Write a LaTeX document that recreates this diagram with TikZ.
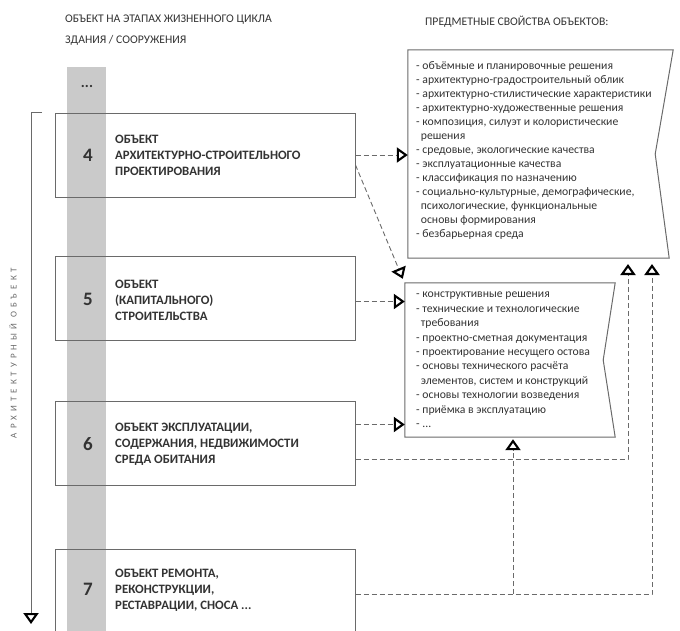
\documentclass[tikz,border=0pt]{standalone}
\usepackage{fontspec}
\setmainfont{Carlito}
\usetikzlibrary{arrows.meta}

\definecolor{txtgray}{HTML}{333333}
\definecolor{linegray}{HTML}{6A6A6A}
\definecolor{bargray}{HTML}{CACACA}

\tikzset{
  stagebox/.style={draw=linegray,line width=1pt,minimum width=300pt,minimum height=84pt,inner sep=0pt},
  stagenum/.style={font=\fontsize{19}{20}\selectfont\bfseries,text=txtgray},
  stagetext/.style={anchor=west,align=left,inner sep=0pt,font=\fontsize{12.8}{16}\selectfont\bfseries,text=txtgray},
  propbox/.style={draw=none,inner sep=0pt},
  proptext/.style={anchor=north west,align=left,inner sep=0pt,font=\fontsize{11.7}{14}\selectfont,text=txtgray},
  title/.style={anchor=west,align=left,inner sep=0pt,font=\fontsize{11.7}{21}\selectfont,text=txtgray},
  opentip/.style={-{Triangle[open,length=11pt,width=15pt,line width=2.1pt,color=black]}},
  link/.style={draw=linegray,line width=0.9pt,dash pattern=on 5pt off 3pt,opentip}
}

\begin{document}
\begin{tikzpicture}[x=1pt,y=-1pt]

\useasboundingbox (0,0) rectangle (680,630);
\clip (0,0) rectangle (680,630);

% Titles
\node[title] (ttlLeft) at (65,30) {ОБЪЕКТ НА ЭТАПАХ ЖИЗНЕННОГО ЦИКЛА\\ЗДАНИЯ / СООРУЖЕНИЯ};
\node[title] (ttlRight) at (425,22) {ПРЕДМЕТНЫЕ СВОЙСТВА ОБЪЕКТОВ:};

% Grey band of the stages
\fill[bargray] (67,67) rectangle (106,640);
\node[stagenum,font=\fontsize{15}{16}\selectfont\bfseries] (dots) at (87,86) {...};

% Stage boxes
\node[stagebox] (s4) at (205,155) {};
\node[stagebox] (s5) at (205,298.5) {};
\node[stagebox] (s6) at (205,443.5) {};
\node[stagebox,minimum height=90pt] (s7) at (205,594) {};

\node[stagenum] (n4) at (88,155) {4};
\node[stagenum] (n5) at (88,299) {5};
\node[stagenum] (n6) at (88,444) {6};
\node[stagenum] (n7) at (88,589) {7};

\node[stagetext] (t4) at (115,155) {ОБЪЕКТ\\АРХИТЕКТУРНО-СТРОИТЕЛЬНОГО\\ПРОЕКТИРОВАНИЯ};
\node[stagetext] (t5) at (115,300) {ОБЪЕКТ\\(КАПИТАЛЬНОГО)\\СТРОИТЕЛЬСТВА};
\node[stagetext] (t6) at (115,444) {ОБЪЕКТ ЭКСПЛУАТАЦИИ,\\СОДЕРЖАНИЯ, НЕДВИЖИМОСТИ\\СРЕДА ОБИТАНИЯ};
\node[stagetext] (t7) at (115,590) {ОБЪЕКТ РЕМОНТА,\\РЕКОНСТРУКЦИИ,\\РЕСТАВРАЦИИ, СНОСА ...};

% Property boxes
\node[propbox,minimum width=265pt,minimum height=208pt] (pa) at (540.5,154) {};
\draw[linegray,line width=1pt] (pa.north west) -- (pa.north east) -- ([xshift=-18pt]pa.east)
  -- ([xshift=-4pt]pa.south east) -- (pa.south west) -- cycle;
\node[proptext] (paText) at (416,61) {- объёмные и планировочные решения\\
- архитектурно-градостроительный облик\\
- архитектурно-стилистические характеристики\\
- архитектурно-художественные решения\\
- композиция, силуэт и колористические\\
\hspace*{0.4em}решения\\
- средовые, экологические качества\\
- эксплуатационные качества\\
- классификация по назначению\\
- социально-культурные, демографические,\\
\hspace*{0.4em}психологические, функциональные\\
\hspace*{0.4em}основы формирования\\
- безбарьерная среда};

\node[propbox,minimum width=210pt,minimum height=154pt] (pb) at (510,360) {};
\draw[linegray,line width=1pt] (pb.north west) -- (pb.north east) -- ([xshift=-12pt]pb.east)
  -- (pb.south east) -- (pb.south west) -- cycle;
\node[proptext,font=\fontsize{11.7}{14.4}\selectfont] (pbText) at (416,292) {- конструктивные решения\\
- технические и технологические\\
\hspace*{0.4em}требования\\
- проектно-сметная документация\\
- проектирование несущего остова\\
- основы технического расчёта\\
\hspace*{0.4em}элементов, систем и конструкций\\
- основы технологии возведения\\
- приёмка в эксплуатацию\\
- ...};

% Feet of the upward links
\coordinate (paFootA) at (628,264);
\coordinate (paFootB) at (652,264);

% Links between stages and properties
\draw[link] (s4.east) -- (s4.east -| pa.west);
\draw[link] ([yshift=-10pt]s4.east) -- ([shift={(-2pt,4pt)}]pb.north west);
\draw[link] ([yshift=-3pt]s5.east) -- ([yshift=-3pt]s5.east -| pb.west);
\draw[link] ([yshift=19pt]s6.east) -- ([yshift=19pt]s6.east -| pb.west);
\draw[link] ([yshift=-16pt]s6.east) -| (paFootA);
\draw[link] (s7.east) -| (paFootB);
\draw[link] ([xshift=3pt]pb.south |- s7.east) -- ([shift={(3pt,-2pt)}]pb.south);

% Axis of the architectural object
\coordinate (axTop) at (42,112);
\coordinate (axBot) at (31,624);
\draw[linegray,line width=0.8pt,opentip] (axTop) -- (axTop -| axBot) -- (axBot);
\node[rotate=90,inner sep=0pt,text=linegray,font=\fontsize{9}{9}\selectfont\addfontfeatures{LetterSpace=45}] (axLabel) at (13,353) {АРХИТЕКТУРНЫЙ ОБЪЕКТ};

\end{tikzpicture}
\end{document}
